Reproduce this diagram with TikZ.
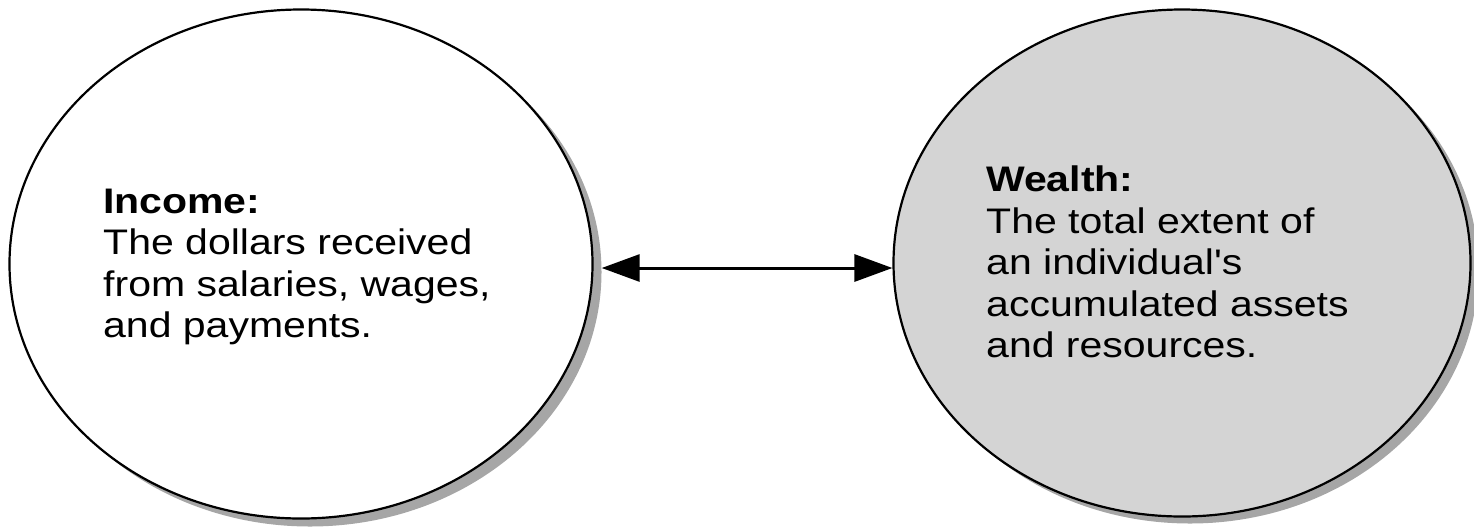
\documentclass[tikz,border=0pt]{standalone}
\usepackage{fontspec}
\setmainfont{Liberation Sans}[Ligatures=TeXOff]
\usetikzlibrary{shapes.geometric,arrows.meta}
\definecolor{shadowgray}{HTML}{A6A6A6}
\definecolor{wealthfill}{HTML}{D4D4D4}
\tikzset{
  bubble/.style={ellipse, draw=black, line width=2.2pt, inner sep=0pt},
  bubbleshadow/.style={ellipse, fill=shadowgray, draw=none, inner sep=0pt},
  label/.style={anchor=base west, inner sep=0pt, font=\fontsize{35.5}{41.5}\selectfont},
  conn/.style={line width=3pt, {Triangle[length=38pt,width=27pt]}-{Triangle[length=38pt,width=27pt]}}
}
\newcommand{\wlines}[1]{\scalebox{1.155}[1]{\begin{tabular}[t]{@{}l@{}}#1\end{tabular}}}
\begin{document}
\begin{tikzpicture}[x=1pt,y=-1pt]
\useasboundingbox (0,0) rectangle (1474,531);
% shadows
\node[bubbleshadow, minimum width=583pt, minimum height=509pt] (incs) at (310,272) {};
\node[bubbleshadow, minimum width=577pt, minimum height=507pt] (weas) at (1190,270) {};
% ellipses
\node[bubble, fill=white, minimum width=583pt, minimum height=509pt] (inc) at (301,264) {};
\node[bubble, fill=wealthfill, minimum width=577pt, minimum height=507pt] (wea) at (1182,263) {};
% texts
\node[label] (inctext) at (103,213) {\wlines{\textbf{Income:}\\The dollars received\\from salaries, wages,\\and payments.}};
\node[label] (weatext) at (986,191.5) {\wlines{\textbf{Wealth:}\\The total extent of\\an individual's\\accumulated assets\\and resources.}};
% connector
\coordinate (ay) at (0,268);
\draw[conn] (incs.east |- ay) -- (wea.west |- ay);
\end{tikzpicture}
\end{document}
